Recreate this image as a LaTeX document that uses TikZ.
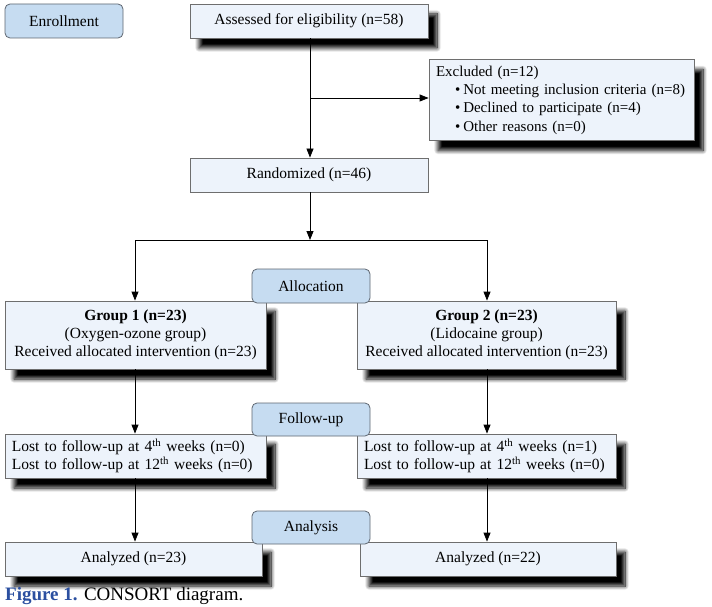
\documentclass[tikz,border=0pt]{standalone}
\usepackage{fontspec}
\setmainfont{Liberation Serif}
\usetikzlibrary{arrows.meta,shadows.blur}
\definecolor{boxfill}{HTML}{EDF3FB}
\definecolor{phasefill}{HTML}{C6DCF1}
\definecolor{boxline}{HTML}{6E6E6E}
\definecolor{phaseline}{HTML}{5E6670}
\definecolor{capblue}{HTML}{2B4FA0}
\tikzset{
  mainbox/.style={draw=boxline, fill=boxfill, line width=0.8pt, inner sep=0pt,
    font=\fontsize{15.5}{18}\selectfont, align=center},
  shadowbox/.style={mainbox, blur shadow={shadow xshift=9pt, shadow yshift=-10pt,
    shadow blur radius=4pt, shadow blur steps=12, shadow opacity=100}},
  phasebox/.style={draw=phaseline, fill=phasefill, line width=0.8pt, rounded corners=5pt,
    inner sep=0pt, font=\fontsize{15.5}{18}\selectfont},
  arr/.style={draw=black, line width=0.8pt, -{Triangle[length=9pt,width=7pt]}},
  ln/.style={draw=black, line width=0.8pt}
}
\begin{document}
\begin{tikzpicture}[x=1pt,y=-1pt]
\useasboundingbox (0,0) rectangle (712,607);
% main boxes
\node[shadowbox, minimum width=238pt, minimum height=34pt] (assess) at (309,21) {Assessed for eligibility (n=58)};
\node[shadowbox, minimum width=265pt, minimum height=81pt, text width=251pt, inner xsep=7pt, align=left,
  font=\fontsize{15}{18.3}\selectfont] (excl) at (561.5,100)
  {\mbox{Excluded (n=12)}\\
   \mbox{\hspace*{19pt}\textbullet\hspace{3pt}Not meeting inclusion criteria (n=8)}\\
   \mbox{\hspace*{19pt}\textbullet\hspace{3pt}Declined to participate (n=4)}\\
   \mbox{\hspace*{19pt}\textbullet\hspace{3pt}Other reasons (n=0)}};
\node[mainbox, minimum width=238pt, minimum height=34pt] (rand) at (309,175) {Randomized (n=46)};
\node[shadowbox, minimum width=261pt, minimum height=68pt] (g1) at (135.5,335)
  {\textbf{Group 1 (n=23)}\\(Oxygen-ozone group)\\Received allocated intervention (n=23)};
\node[shadowbox, minimum width=259pt, minimum height=68pt] (g2) at (486.5,335)
  {\textbf{Group 2 (n=23)}\\(Lidocaine group)\\Received allocated intervention (n=23)};
\node[shadowbox, minimum width=261pt, minimum height=44pt, text width=247pt, inner xsep=7pt, align=left] (l1) at (135.5,456)
  {Lost to follow-up at 4\textsuperscript{th} weeks (n=0)\\Lost to follow-up at 12\textsuperscript{th} weeks (n=0)};
\node[shadowbox, minimum width=259pt, minimum height=44pt, text width=245pt, inner xsep=7pt, align=left] (l2) at (486.5,456)
  {Lost to follow-up at 4\textsuperscript{th} weeks (n=1)\\Lost to follow-up at 12\textsuperscript{th} weeks (n=0)};
\node[shadowbox, minimum width=257pt, minimum height=34pt] (a1) at (133.5,559) {Analyzed (n=23)};
\node[shadowbox, minimum width=256pt, minimum height=34pt] (a2) at (488,559) {Analyzed (n=22)};
% connectors
\coordinate (br) at (310,98);
\coordinate (j) at (310,240);
\coordinate (jl) at (135,240);
\coordinate (jr) at (487,240);
\draw[arr] (assess.south -| br) -- (rand.north -| br);
\draw[arr] (br) -- (br -| excl.west);
\draw[arr] (rand.south -| j) -- (j);
\draw[ln] (jl) -- (jr);
\draw[arr] (jl) -- (jl |- g1.north);
\draw[arr] (jr) -- (jr |- g2.north);
\draw[arr] (g1.south -| jl) -- (jl |- l1.north);
\draw[arr] (g2.south -| jr) -- (jr |- l2.north);
\draw[arr] (l1.south -| jl) -- (jl |- a1.north);
\draw[arr] (l2.south -| jr) -- (jr |- a2.north);
% phase boxes
\node[phasebox, minimum width=118pt, minimum height=34pt] (enr) at (64,21) {Enrollment};
\node[phasebox, minimum width=118pt, minimum height=34pt] (alloc) at (311,286) {Allocation};
\node[phasebox, minimum width=118pt, minimum height=33pt] (fup) at (311,419.5) {Follow-up};
\node[phasebox, minimum width=118pt, minimum height=33pt] (anal) at (311,527.5) {Analysis};
% caption
\node[anchor=base west, inner sep=0pt, font=\fontsize{19}{21}\selectfont] (cap) at (5,600)
  {\textcolor{capblue}{\textbf{Figure 1.}} CONSORT diagram.};
\end{tikzpicture}
\end{document}
